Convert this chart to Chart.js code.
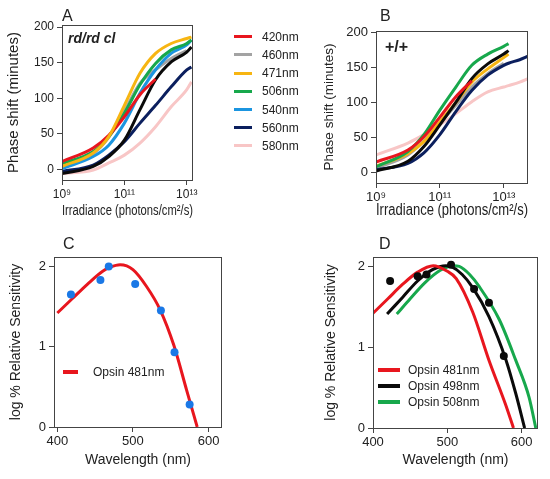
<!DOCTYPE html>
<html lang="en">
<head>
<meta charset="UTF-8" />
<title>Phase shift and spectral sensitivity</title>
<script src="https://cdn.jsdelivr.net/npm/chart.js"></script>
<style>
  body { margin: 0; width: 550px; height: 479px; position: relative; background: #fff; overflow: hidden;
         font-family: Arial, "Liberation Sans", sans-serif; color: #222; }
  canvas { position: absolute; }
  .lbl { position: absolute; white-space: nowrap; }
  .panel { font-size: 16px; line-height: 16px; }
  .keyLine { position: absolute; height: 3px; }
  .keyText { position: absolute; font-size: 12px; line-height: 14px; white-space: nowrap; }
</style>
</head>
<body>
<canvas id="chartA" width="235" height="230" style="left:0;top:0"></canvas>
<canvas id="chartB" width="235" height="230" style="left:315px;top:0"></canvas>
<canvas id="chartC" width="275" height="249" style="left:0;top:230px"></canvas>
<canvas id="chartD" width="275" height="249" style="left:275px;top:230px"></canvas>

<div class="lbl panel" style="left:62px;top:8px">A</div>
<div class="lbl panel" style="left:380px;top:8px">B</div>
<div class="lbl panel" style="left:63px;top:236px">C</div>
<div class="lbl panel" style="left:379px;top:236px">D</div>
<div class="lbl" style="left:68px;top:31px;font:italic bold 14px Arial, 'Liberation Sans', sans-serif;line-height:14px">rd/rd cl</div>
<div class="lbl" style="left:385px;top:39px;font:bold 16px Arial, 'Liberation Sans', sans-serif;line-height:16px">+/+</div>
<div id="keys"></div>

<script>
// x for A and B is log10 of irradiance (photons/cm2/s)
const logIrrA = [9, 10, 10.5, 11, 11.5, 12, 12.5, 13, 13.15];
const a420 = [11, 30, 48, 74, 105, 127, null, null, null];
const a460 = [3, 22, 45, 82, 121, 140, 156, 167, null];
const a471 = [4, 23, 46, 90, 135, 163, 177, 184, 186];
const a506 = [8, 25, 46, 79, 119, 149, 168, 177, 182];
const a540 = [1, 18, 34, 65, 107, 140, 163, 175, 182];
const a560 = [-3, 6, 20, 39, 65, 90, 116, 140, 144];
const a580 = [-6, -1, 9, 20, 37, 60, 88, 112, 123];
const aBlack = [-6, 4, 18, 41, 84, 126, 151, 165, 172];

const logIrrB = [9, 10, 10.5, 11, 11.5, 12, 12.5, 13, 13.15, 13.5, 13.76];
const b420 = [15, 32, 51, 79, 108, 131, null, null, null, null, null];
const b460 = [6, 25, 45, 70, 96, 122, 141, 156, null, null, null];
const b471 = [9, 27, 44, 72, 100, 129, 148, 164, 169, null, null];
const b506 = [8, 30, 54, 89, 122, 153, 169, 180, 184, null, null];
const b560 = [4, 13, 28, 54, 87, 117, 139, 153, 156, 161, 166];
const b580 = [25, 42, 54, 68, 84, 101, 115, 122, 124, 129, 134];
const bBlack = [2, 16, 37, 68, 100, 134, 155, 169, 174, null, null];

// C: opsin template and measured points
const waveC = [400, 420, 440, 460, 470, 483, 500, 518, 536, 554, 571, 585];
const opsin481C = [1.42, 1.60, 1.78, 1.94, 1.99, 2.02, 1.96, 1.75, 1.46, 1.02, 0.46, 0];
const dotWaveC = [418, 457, 468, 503, 537, 555, 575];
const dotSensC = [1.65, 1.83, 2.0, 1.78, 1.45, 0.93, 0.28];

// D: three templates and measured points
const wave481 = [400, 420, 440, 460, 481, 500, 512, 534, 556, 578, 589];
const sens481 = [1.42, 1.6, 1.78, 1.93, 2.01, 1.94, 1.85, 1.44, 0.84, 0.30, 0];
const wave498 = [419, 440, 460, 480, 498, 505, 520, 534, 556, 579, 592, 604];
const sens498 = [1.41, 1.62, 1.82, 1.96, 2.01, 2.0, 1.9, 1.74, 1.38, 0.84, 0.43, 0];
const wave508 = [432, 450, 470, 490, 508, 516, 530, 543, 570, 592, 610, 619];
const sens508 = [1.41, 1.6, 1.8, 1.95, 2.01, 2.0, 1.9, 1.75, 1.34, 0.84, 0.38, 0];
const dotWaveD = [423, 460, 472, 505, 536, 556, 576];
const dotSensD = [1.82, 1.88, 1.90, 2.02, 1.72, 1.55, 0.89];

const phaseTicks = [0, 50, 100, 150, 200];
const logTicks = [9, 11, 13];
const waveTicks = [400, 500, 600];
const sensTicks = [0, 1, 2];

const legendA = ['420nm', '460nm', '471nm', '506nm', '540nm', '560nm', '580nm'];
const legendD = ['Opsin 481nm', 'Opsin 498nm', 'Opsin 508nm'];

const colors = {
  '420nm': '#e8161e', '460nm': '#a3a3a3', '471nm': '#f7b512', '506nm': '#17a84c',
  '540nm': '#1b95e0', '560nm': '#0b1f5e', '580nm': '#f8c6c6', black: '#0a0a0a'
};
const dotBlue = '#1a78e6';
const axisColor = '#444';

const pts = (xs, ys) => xs.map((x, i) => ({ x: x, y: ys[i] }));
const curve = (label, xs, ys, color, width) => ({
  label: label, data: pts(xs, ys), borderColor: color, borderWidth: width || 3,
  pointRadius: 0, fill: false, cubicInterpolationMode: 'monotone', spanGaps: false
});
const dots = (label, xs, ys, color) => ({
  label: label, data: pts(xs, ys), showLine: false, pointRadius: 4,
  pointBackgroundColor: color, pointBorderWidth: 0
});

const sup = v => String(v).split('').map(d => '⁰¹²³⁴⁵⁶⁷⁸⁹'[+d]).join('');

// box around the plot area
const frame = {
  id: 'frame',
  afterDatasetsDraw(chart) {
    const ctx = chart.ctx, a = chart.chartArea;
    ctx.save();
    ctx.strokeStyle = axisColor;
    ctx.lineWidth = 1;
    ctx.strokeRect(Math.round(a.left) + 0.5, Math.round(a.top) + 0.5,
                   Math.round(a.width) - 1, Math.round(a.height));
    ctx.restore();
  }
};

function makeChart(id, datasets, o) {
  return new Chart(document.getElementById(id), {
    type: 'line',
    data: { datasets: datasets },
    options: {
      responsive: false,
      animation: false,
      events: [],
      layout: { padding: o.pad },
      plugins: { legend: { display: false }, tooltip: { enabled: false } },
      scales: {
        x: {
          type: 'linear', min: o.xMin, max: o.xMax,
          afterBuildTicks: s => { s.ticks = o.xTicks.map(v => ({ value: v })); },
          afterFit: s => { s.height = o.xH; },
          border: { display: false },
          grid: { drawOnChartArea: false, tickLength: 5, color: axisColor },
          ticks: { callback: o.xFmt || (v => v), font: { size: o.xTickSize }, color: '#222',
                   padding: 2, maxRotation: 0, autoSkip: false },
          title: { display: true, text: o.xTitle, color: '#222', font: { size: o.xTitleSize },
                   padding: { top: 0, bottom: o.xTitlePad } }
        },
        y: {
          type: 'linear', min: o.yMin, max: o.yMax,
          afterBuildTicks: s => { s.ticks = o.yTicks.map(v => ({ value: v })); },
          afterFit: s => { s.width = o.yW; },
          border: { display: false },
          grid: { drawOnChartArea: false, tickLength: 5, color: axisColor },
          ticks: { font: { size: o.yTickSize }, color: '#222', padding: 3, autoSkip: false },
          title: { display: true, text: o.yTitle, color: '#222', font: { size: o.yTitleSize },
                   padding: { top: o.yTitlePad, bottom: 0 } }
        }
      }
    },
    plugins: [frame]
  });
}

// A: first dataset is drawn on top
makeChart('chartA', [
  curve('471nm', logIrrA, a471, colors['471nm']),
  curve('420nm', logIrrA, a420, colors['420nm']),
  curve('506nm', logIrrA, a506, colors['506nm']),
  curve('540nm', logIrrA, a540, colors['540nm']),
  curve('black', logIrrA, aBlack, colors.black),
  curve('560nm', logIrrA, a560, colors['560nm']),
  curve('460nm', logIrrA, a460, colors['460nm']),
  curve('580nm', logIrrA, a580, colors['580nm'])
], {
  pad: { top: 25, right: 42, left: 0, bottom: 0 },
  xMin: 9, xMax: 13.2, xTicks: logTicks, xFmt: v => '10' + sup(v), xH: 50,
  xTickSize: 12, xTitle: 'Irradiance (photons/cm²/s)', xTitleSize: 14, xTitlePad: 10.6,
  yMin: -15, yMax: 203, yTicks: phaseTicks, yW: 62, yTickSize: 12,
  yTitle: 'Phase shift (minutes)', yTitleSize: 15, yTitlePad: 5
});

makeChart('chartB', [
  curve('420nm', logIrrB, b420, colors['420nm']),
  curve('506nm', logIrrB, b506, colors['506nm']),
  curve('black', logIrrB, bBlack, colors.black),
  curve('471nm', logIrrB, b471, colors['471nm']),
  curve('560nm', logIrrB, b560, colors['560nm']),
  curve('460nm', logIrrB, b460, colors['460nm']),
  curve('580nm', logIrrB, b580, colors['580nm'])
], {
  pad: { top: 31, right: 22, left: 0, bottom: 0 },
  xMin: 9, xMax: 13.76, xTicks: logTicks, xFmt: v => '10' + sup(v), xH: 47,
  xTickSize: 13, xTitle: 'Irradiance (photons/cm²/s)', xTitleSize: 16, xTitlePad: 9.4,
  yMin: -15, yMax: 202, yTicks: phaseTicks, yW: 61, yTickSize: 13,
  yTitle: 'Phase shift (minutes)', yTitleSize: 13.5, yTitlePad: 5.9
});

makeChart('chartC', [
  dots('points', dotWaveC, dotSensC, dotBlue),
  curve('Opsin 481nm', waveC, opsin481C, colors['420nm'])
], {
  pad: { top: 27, right: 53, left: 0, bottom: 0 },
  xMin: 395.6, xMax: 617.8, xTicks: waveTicks, xH: 52,
  xTickSize: 13, xTitle: 'Wavelength (nm)', xTitleSize: 14, xTitlePad: 10.1,
  yMin: 0, yMax: 2.117, yTicks: sensTicks, yW: 54, yTickSize: 13,
  yTitle: 'log % Relative Sensitivity', yTitleSize: 14, yTitlePad: 7.6
});

makeChart('chartD', [
  dots('points', dotWaveD, dotSensD, colors.black),
  curve('Opsin 481nm', wave481, sens481, colors['420nm']),
  curve('Opsin 498nm', wave498, sens498, colors.black),
  curve('Opsin 508nm', wave508, sens508, colors['506nm'])
], {
  pad: { top: 27, right: 12, left: 0, bottom: 0 },
  xMin: 400, xMax: 622, xTicks: waveTicks, xH: 51,
  xTickSize: 13, xTitle: 'Wavelength (nm)', xTitleSize: 14, xTitlePad: 10.6,
  yMin: 0, yMax: 2.117, yTicks: sensTicks, yW: 98, yTickSize: 13,
  yTitle: 'log % Relative Sensitivity', yTitleSize: 14, yTitlePad: 48
});

// legends as html
const keys = document.getElementById('keys');
function addKey(x, y, len, thick, textX, name, color) {
  const line = document.createElement('div');
  line.className = 'keyLine';
  line.style.cssText = `left:${x}px;top:${y - thick / 2}px;width:${len}px;height:${thick}px;background:${color}`;
  const txt = document.createElement('div');
  txt.className = 'keyText';
  txt.style.cssText = `left:${textX}px;top:${y - 7}px`;
  txt.textContent = name;
  keys.appendChild(line);
  keys.appendChild(txt);
}
legendA.forEach((name, i) => addKey(234, 36.7 + i * 18.2, 18, 3, 262, name, colors[name]));
addKey(63, 371.7, 15, 4, 93, 'Opsin 481nm', colors['420nm']);
const legendDColors = [colors['420nm'], colors.black, colors['506nm']];
legendD.forEach((name, i) => addKey(378, 370 + i * 16.2, 22, 4, 408, name, legendDColors[i]));
</script>
</body>
</html>
